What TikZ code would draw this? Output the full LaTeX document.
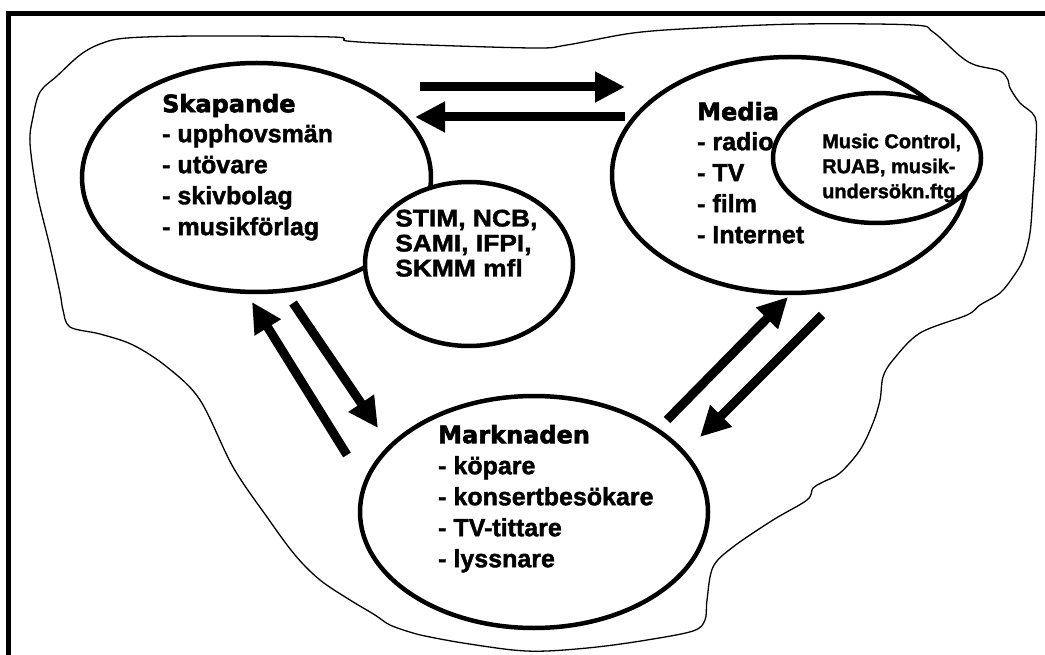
\documentclass[tikz,border=0pt]{standalone}
\usepackage{fontspec}
\setmainfont{Liberation Sans}[BoldFeatures={FakeBold=1.6}]
\newfontfamily\headfont{DejaVu Sans}[BoldFeatures={FakeBold=2.2}]
\newfontfamily\widefont{Liberation Sans}[FakeStretch=1.1,BoldFeatures={FakeBold=1.6}]
\usetikzlibrary{shapes.geometric,arrows.meta}

\begin{document}
\begin{tikzpicture}[x=1pt,y=-1pt,
  oval/.style={ellipse, draw, line width=4.5pt, fill=white, inner sep=0pt},
  listtext/.style={anchor=north west, align=left, inner sep=0pt,
    font=\bfseries\fontsize{25}{31}\selectfont},
  flow/.style={line width=9pt, -{Triangle[length=30pt,width=29pt]}},
  outline/.style={line width=1.3pt, line join=round}
]
\useasboundingbox (0,0) rectangle (1045,655);

% frame along the top and left edges
\draw[line width=5pt] (8.5,655) -- (8.5,13.5) -- (1045,13.5);

% hand-drawn area around the three groups
\draw[outline] plot[smooth cycle, tension=0.55] coordinates {
  (127,38) (200,36) (333,37) (347,41) (400,44) (533,48) (567,45) (633,33)
  (700,28) (800,24) (913,25) (933,32) (960,56) (975,65) (1000,71) (1008,80)
  (1010,88) (1020,103) (1035,117) (1036,143) (1033,193) (1030,233) (1023,260)
  (1013,277) (1000,293) (980,305) (967,315) (920,333) (893,360) (883,377)
  (880,400) (873,423) (860,450) (840,473) (823,482) (813,488) (807,500)
  (773,520) (733,547) (713,567) (707,600) (705,620) (693,631) (647,640)
  (597,647) (547,651) (513,650) (463,643) (430,637) (413,633) (390,625)
  (375,615) (350,600) (320,580) (295,555) (267,517) (233,467) (200,400)
  (167,367) (133,345) (100,334) (70,327) (63,310) (60,293) (50,247) (37,193)
  (30,143) (33,117) (40,92) (57,76) (80,55) (100,44)};

% groups
\node[oval, minimum width=349pt, minimum height=229pt] (sk) at (256.5,177.5) {};
\node[oval, minimum width=208pt, minimum height=164pt] (stim) at (469,264) {};
\node[oval, minimum width=356pt, minimum height=236pt] (me) at (790,175) {};
\node[oval, minimum width=208pt, minimum height=130pt] (mc) at (877,158) {};
\node[oval, minimum width=348pt, minimum height=232pt] (mk) at (534,512) {};

% labels
\node[listtext] (sktext) at (162,93.8)
  {{\headfont\fontsize{24}{31}\selectfont Skapande}\\[-1pt]- upphovsmän\\- utövare\\- skivbolag\\- musikförlag};
\node[listtext] (metext) at (697,101.8)
  {{\headfont\fontsize{24}{31}\selectfont Media}\\[-1pt]- radio\\- TV\\- film\\- Internet};
\node[listtext] (mktext) at (438,424.8)
  {{\headfont\fontsize{24}{31}\selectfont Marknaden}\\- köpare\\- konsertbesökare\\- TV-tittare\\- lyssnare};
\node[anchor=north west, align=left, inner sep=0pt,
  font=\widefont\bfseries\fontsize{24}{25}\selectfont] (stimtext) at (395,209.5)
  {STIM, NCB,\\SAMI, IFPI,\\SKMM mfl};
\node[anchor=north west, align=left, inner sep=0pt,
  font=\bfseries\fontsize{20}{25}\selectfont] (mctext) at (822,133.5)
  {Music Control,\\RUAB, musik-\\undersökn.ftg.};

% flows between the groups
\coordinate (skme1) at (420,87);  \coordinate (skme2) at (625,87);
\coordinate (mesk1) at (625,117); \coordinate (mesk2) at (415,117);
\coordinate (mksk1) at (347,455); \coordinate (mksk2) at (252,302);
\coordinate (skmk1) at (293,303); \coordinate (skmk2) at (378,428);
\coordinate (mkme1) at (667,420); \coordinate (mkme2) at (788,297);
\coordinate (memk1) at (822,315); \coordinate (memk2) at (700,437);

\draw[flow] (skme1) -- (skme2);
\draw[flow] (mesk1) -- (mesk2);
\draw[flow] (mksk1) -- (mksk2);
\draw[flow] (skmk1) -- (skmk2);
\draw[flow] (mkme1) -- (mkme2);
\draw[flow] (memk1) -- (memk2);
\end{tikzpicture}
\end{document}
